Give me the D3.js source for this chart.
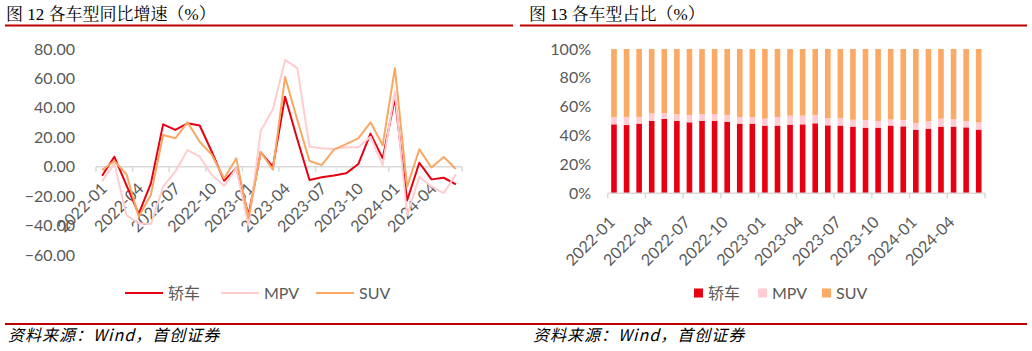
<!DOCTYPE html>
<html>
<head>
<meta charset="utf-8">
<script src="https://cdn.jsdelivr.net/npm/d3@7"></script>
<style>
  body { margin: 0; background: #fff; }
  svg { display: block; }
</style>
</head>
<body>
<svg id="chart" width="1032" height="351"></svg>
<script>
// mois 2022-01 .. 2024-06
const months = [];
for (let y = 2022; y <= 2024; y++) {
  for (let m = 1; m <= 12; m++) {
    if (y === 2024 && m > 6) break;
    months.push(`${y}-${String(m).padStart(2, "0")}`);
  }
}

// Fig 12 : croissance annuelle (%)
const yoySedan = [-6.1, 6.8, -12.7, -32, -11.3, 28.8, 25, 29.5, 28, 10, -9.5, -1,
                  -33, 9.8, 0, 47.6, 18.6, -9, -7.2, -6, -4.5, 1.8, 22.5, 5.7,
                  46.5, -23, 2.7, -8.6, -7.5, -12];
const yoyMPV   = [-10, 2.3, -33, -38.5, -39, -13.6, -3.4, 11.3, 6.8, -5.6, -13, -1,
                  -40, 24.3, 39, 72.6, 67, 13.6, 12.5, 12, 13.3, 13.3, 20.4, 1.1,
                  51, -33, -6.8, -13.6, -18, -5.2];
const yoySUV   = [-2.3, 3.9, -5.2, -34, -19, 21.6, 19.3, 30.2, 17, 8, -8, 5.7,
                  -35, 10, -2, 61, 31.8, 3.9, 1.1, 11.6, 15.4, 19.3, 30.2, 14.6,
                  67, -13.6, 11.8, -0.5, 6.6, -1.6];
const yoyTicks = [80, 60, 40, 20, 0, -20, -40, -60];

// Fig 13 : parts (%) ; SUV = le reste jusqu'à 100
const shareSedan = [47.8, 47.3, 48.3, 50.1, 51.5, 50.1, 49.2, 50.3, 50.3, 49.6, 48.3, 48.3,
                    46.9, 46.9, 47.6, 47.8, 48.5, 47.1, 46.9, 46.2, 45.5, 45.5, 46.9, 46.4,
                    43.9, 44.8, 46.2, 46.2, 45.7, 44.1];
const shareMPV   = [5.1, 5.6, 4.6, 5.5, 4.1, 4.6, 5.1, 4.6, 4.6, 4.7, 4.6, 4.6,
                    4.8, 6.0, 6.2, 6.0, 5.8, 4.9, 5.3, 4.8, 5.3, 4.6, 4.4, 4.4,
                    4.8, 5.1, 5.5, 5.3, 4.4, 5.1];
const shareTicks = [0, 20, 40, 60, 80, 100];

const seriesNames = ["轿车", "MPV", "SUV"];
const colors = ["#E60012", "#FFCCD3", "#FBAA66"];
const lineColors = ["#E60012", "#FFCCD0", "#F9A864"];

const svg = d3.select("#chart");
const numFont = "Lato, 'Noto Sans', sans-serif";
const cjkFont = "'Noto Sans CJK SC', sans-serif";
const titleFont = "'Liberation Serif', 'Noto Serif CJK SC', 'Noto Sans CJK SC', serif";
const grey = "#595959";
const axisGrey = "#d9d9d9";
const titleRed = "#C00000";

// ---------- titres + filets ----------
function header(x0, x1, tx, txt) {
  svg.append("text").attr("x", tx).attr("y", 20)
    .style("font-family", titleFont).style("font-size", "17px").style("fill", "#000")
    .text(txt);
  svg.append("line").attr("x1", x0).attr("x2", x1).attr("y1", 25.5).attr("y2", 25.5)
    .attr("stroke", titleRed).attr("stroke-width", 2);
}
header(5, 513, 6, "图 12 各车型同比增速（%）");
header(520, 1027, 529, "图 13 各车型占比（%）");

function footer(x0, x1, tx) {
  svg.append("line").attr("x1", x0).attr("x2", x1).attr("y1", 324).attr("y2", 324)
    .attr("stroke", titleRed).attr("stroke-width", 2);
  svg.append("text").attr("x", tx).attr("y", 341)
    .style("font-family", cjkFont).style("font-size", "16px").style("font-style", "italic")
    .style("letter-spacing", "1px").style("fill", "#000")
    .text("资料来源：Wind，首创证券");
}
footer(5, 516, 8);
footer(516, 1027, 533);

// ---------- helper: ticks de bornes + labels tournés ----------
function catAxis(x, yAxis, labelDx, labelDy) {
  const g = svg.append("g");
  g.append("line")
    .attr("x1", x.range()[0]).attr("x2", x.range()[1])
    .attr("y1", yAxis).attr("y2", yAxis)
    .attr("stroke", axisGrey).attr("stroke-width", 1.5);
  const bounds = months.filter((d, i) => i % 3 === 0).map(d => x(d)).concat([x.range()[1]]);
  g.selectAll(".bt").data(bounds).join("line")
    .attr("x1", d => d).attr("x2", d => d)
    .attr("y1", yAxis).attr("y2", yAxis + 5)
    .attr("stroke", axisGrey).attr("stroke-width", 1.5);

  const ax = svg.append("g")
    .attr("transform", `translate(0,${yAxis})`)
    .call(d3.axisBottom(x).tickValues(months.filter((d, i) => i % 3 === 0)).tickSize(0));
  ax.select(".domain").remove();
  ax.selectAll("text")
    .attr("y", 0).attr("dy", "0.35em")
    .attr("transform", `translate(${labelDx},${labelDy}) rotate(-45)`)
    .style("text-anchor", "end")
    .style("font-family", numFont).style("font-size", "16px").style("fill", grey);
}

// ---------- Fig 12 : lignes ----------
{
  const x = d3.scaleBand().domain(months).range([96, 462]);
  const y = d3.scaleLinear().domain([-60, 80]).range([255, 49]);

  const yAx = svg.append("g").attr("transform", "translate(75,0)")
    .call(d3.axisLeft(y).tickValues(yoyTicks).tickSize(0).tickFormat(d3.format(".2f")));
  yAx.select(".domain").remove();
  yAx.selectAll("text").attr("x", 0)
    .style("font-family", numFont).style("font-size", "16px").style("fill", grey);

  catAxis(x, y(0), 2, 19);

  const line = d3.line()
    .x((d, i) => x(months[i]) + x.bandwidth() / 2)
    .y(d => y(d));
  [yoySedan, yoyMPV, yoySUV].forEach((s, k) => {
    svg.append("path").datum(s)
      .attr("d", line).attr("fill", "none")
      .attr("stroke", lineColors[k]).attr("stroke-width", 2)
      .attr("stroke-linejoin", "round");
  });

  // légende
  const lg = svg.append("g").attr("transform", "translate(125,293)");
  const lx = [0, 96, 191];
  seriesNames.forEach((n, k) => {
    lg.append("line").attr("x1", lx[k]).attr("x2", lx[k] + 38).attr("y1", 0).attr("y2", 0)
      .attr("stroke", lineColors[k]).attr("stroke-width", 2);
    lg.append("text").attr("x", lx[k] + 43).attr("y", 0).attr("dy", "0.35em")
      .style("font-family", k === 0 ? cjkFont : numFont).style("font-size", "16px")
      .style("fill", grey).text(n);
  });
}

// ---------- Fig 13 : barres empilées ----------
{
  const x = d3.scaleBand().domain(months).range([607.7, 985]);
  const y = d3.scaleLinear().domain([0, 100]).range([193.3, 49]);

  const rows = months.map((m, i) => ({
    month: m,
    "轿车": shareSedan[i],
    "MPV": shareMPV[i],
    "SUV": 100 - shareSedan[i] - shareMPV[i]
  }));
  const stack = d3.stack().keys(seriesNames)(rows);

  const yAx = svg.append("g").attr("transform", "translate(591,0)")
    .call(d3.axisLeft(y).tickValues(shareTicks).tickSize(0).tickFormat(d => d + "%"));
  yAx.select(".domain").remove();
  yAx.selectAll("text").attr("x", 0)
    .style("font-family", numFont).style("font-size", "16px").style("fill", grey);

  const bw = 5.6;
  stack.forEach((layer, k) => {
    svg.append("g").selectAll("rect").data(layer).join("rect")
      .attr("x", d => x(d.data.month) + x.bandwidth() / 2 - bw / 2)
      .attr("width", bw)
      .attr("y", d => y(d[1]))
      .attr("height", d => y(d[0]) - y(d[1]))
      .attr("fill", colors[k]);
  });

  catAxis(x, y(0), -2, 26);

  const lg = svg.append("g").attr("transform", "translate(694,293)");
  const lx = [0, 64, 128];
  seriesNames.forEach((n, k) => {
    lg.append("rect").attr("x", lx[k]).attr("y", -4.5).attr("width", 9).attr("height", 9)
      .attr("fill", colors[k]);
    lg.append("text").attr("x", lx[k] + 14).attr("y", 0).attr("dy", "0.35em")
      .style("font-family", k === 0 ? cjkFont : numFont).style("font-size", "16px")
      .style("fill", grey).text(n);
  });
}
</script>
</body>
</html>
